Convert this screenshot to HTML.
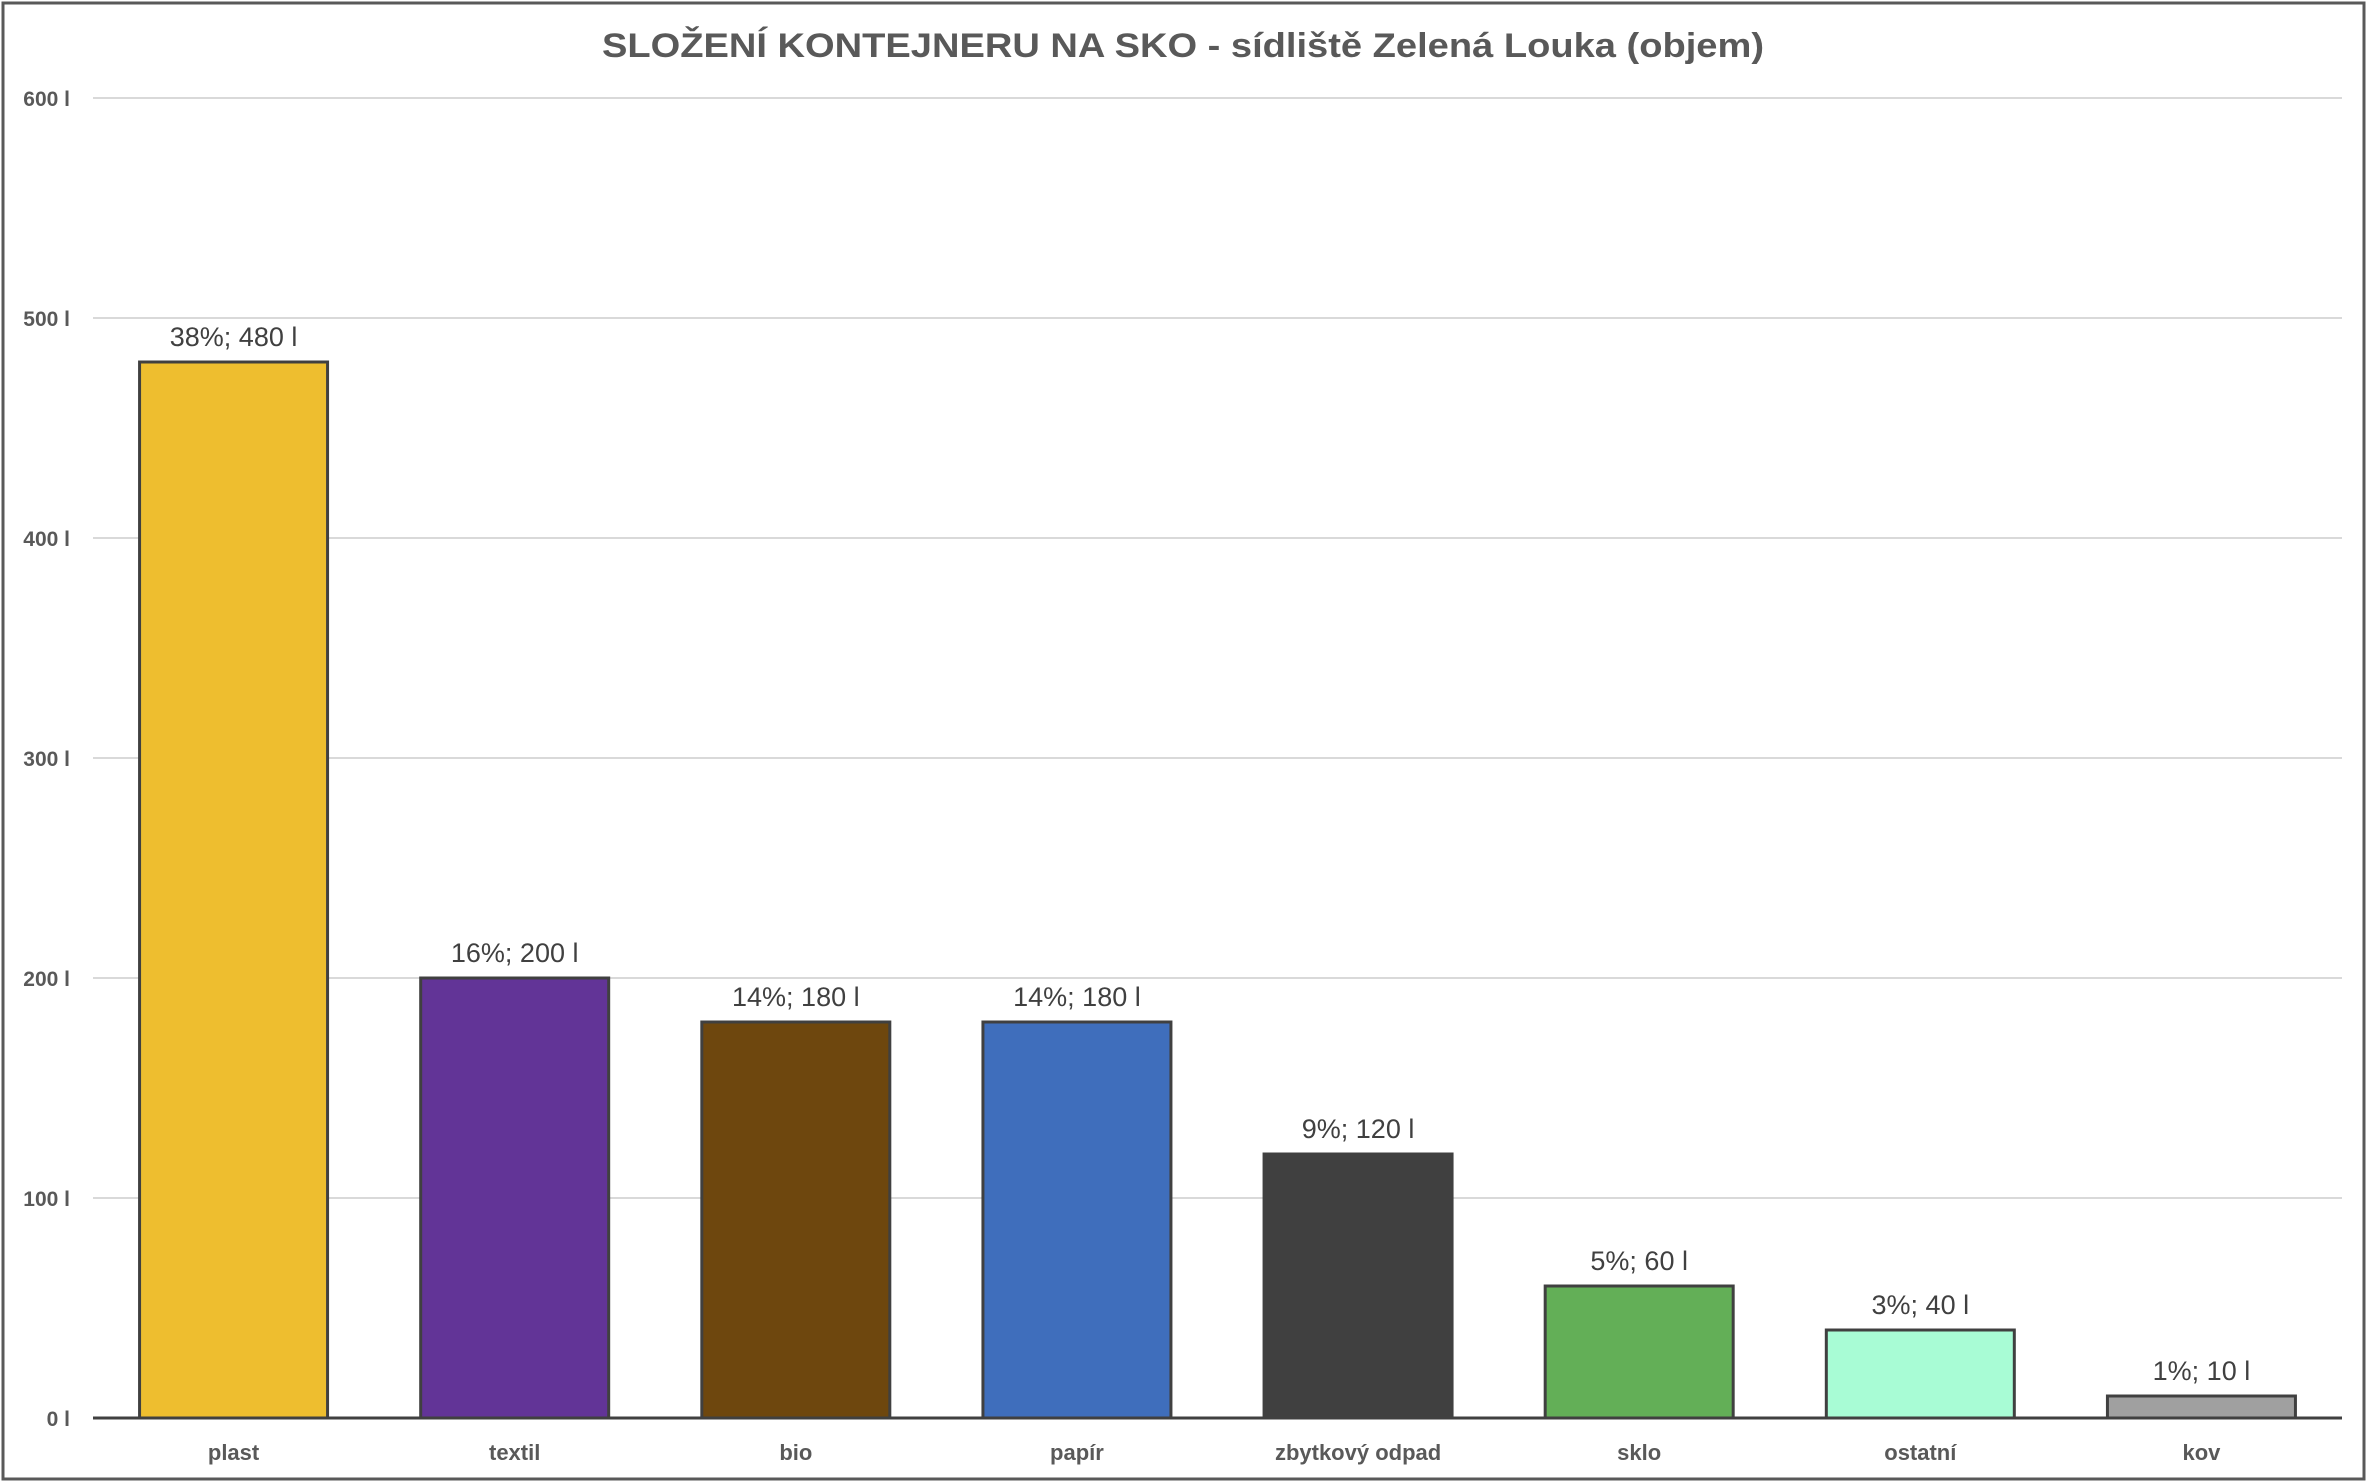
<!DOCTYPE html>
<html><head><meta charset="utf-8"><style>
html,body{margin:0;padding:0;background:#fff}
svg{display:block}
text{font-family:"Liberation Sans",sans-serif}
</style></head><body>
<svg id="chart" width="2368" height="1483" xmlns="http://www.w3.org/2000/svg">
<rect x="3" y="3" width="2361" height="1476" fill="#fff" stroke="#595959" stroke-width="3"/>
<text x="1183" y="57" text-anchor="middle" font-size="34" font-weight="bold" fill="#595959" textLength="1162" lengthAdjust="spacingAndGlyphs">SLOŽENÍ KONTEJNERU NA SKO - sídliště Zelená Louka (objem)</text>
<g id="grid"></g><g id="bars"></g><g id="labels"></g>
</svg>
<script>
const categories=["plast","textil","bio","papír","zbytkový odpad","sklo","ostatní","kov"];
const values=[480,200,180,180,120,60,40,10];
const percents=["38%","16%","14%","14%","9%","5%","3%","1%"];
const colors=["#EEBE2F","#623497","#6E470E","#3F6EBC","#404040","#63AF57","#A8FCD5","#A0A0A0"];
const ticks=[0,100,200,300,400,500,600];
const NS="http://www.w3.org/2000/svg";
const L=93,R=2342,T=98,B=1418,YMAX=600;
const y=v=>B-(v/YMAX)*(B-T);
const step=(R-L)/categories.length;
const xc=i=>L+step*(i+0.5);
const bw=188;
function mk(tag,attrs,parent){const e=document.createElementNS(NS,tag);for(const k in attrs)e.setAttribute(k,attrs[k]);parent.appendChild(e);return e;}
const grid=document.getElementById('grid'),bars=document.getElementById('bars'),labels=document.getElementById('labels');
ticks.forEach(t=>{
  if(t>0){const g=mk('line',{x1:L,x2:R,y1:y(t),y2:y(t),stroke:'#d9d9d9','stroke-width':2},grid);
  
  }
  const tx=mk('text',{x:70,y:y(t)+8,'text-anchor':'end','font-size':21,'font-weight':'bold',fill:'#595959'},grid);
  tx.textContent=t+' l';
  
  
});
categories.forEach((c,i)=>{
  const r=mk('rect',{x:xc(i)-bw/2,y:y(values[i]),width:bw,height:B-y(values[i]),fill:colors[i],stroke:'#404040','stroke-width':3},bars);
  
  
  const dl=mk('text',{x:xc(i),y:y(values[i])-16,'text-anchor':'middle','font-size':27,fill:'#404040'},labels);
  dl.textContent=percents[i]+'; '+values[i]+' l';
  
  
  const cl=mk('text',{x:xc(i),y:1460,'text-anchor':'middle','font-size':22,'font-weight':'bold',fill:'#595959'},labels);
  cl.textContent=c;
  
  
});
const ax=mk('line',{x1:L,x2:R,y1:B,y2:B,stroke:'#404040','stroke-width':3},labels);


</script>
</body></html>
